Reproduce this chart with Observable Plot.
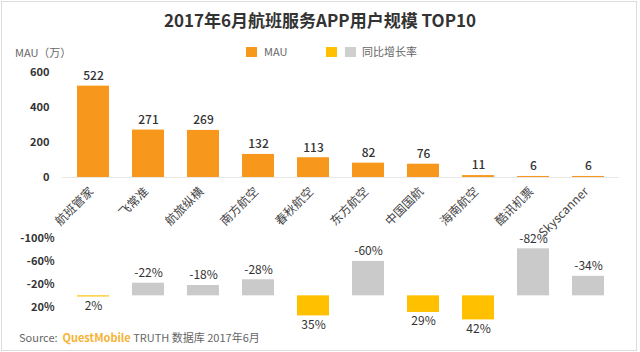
<!DOCTYPE html>
<html><head><meta charset="utf-8">
<script src="https://cdn.jsdelivr.net/npm/d3@7"></script>
<script src="https://cdn.jsdelivr.net/npm/@observablehq/plot@0.6"></script>
<style>
body{margin:0;background:#fff;font-family:"Noto Sans CJK SC","Noto Sans",sans-serif;}
#wrap{position:relative;width:640px;height:352px;overflow:hidden;background:#fff;}
#border{position:absolute;left:1px;top:1px;width:636px;height:350px;border:1px solid #dcdcdc;box-sizing:border-box;}
.abs{position:absolute;white-space:nowrap;}
#title{left:0;width:640px;top:9px;text-align:center;font-size:17px;font-weight:bold;color:#333;line-height:22px;}
#unit{left:15px;top:44px;font-size:11px;color:#666;line-height:16px;}
.sw{position:absolute;width:11px;height:10px;}
.lg{position:absolute;font-size:11px;color:#666;line-height:16px;top:43px;}
#source{left:19px;top:329px;font-size:11px;color:#666;line-height:16px;}
#source b{color:#F5B335;}
#top,#bottom{position:absolute;left:0;}
#top{top:0;}
#bottom{top:225px;}
</style></head>
<body>
<div id="wrap">
  <div id="border"></div>
  <div id="top"></div>
  <div id="bottom"></div>
  <div id="title" class="abs">2017年6月航班服务APP用户规模 TOP10</div>
  <div id="unit" class="abs">MAU（万）</div>
  <div class="sw" style="left:246px;top:47px;background:#F7981D"></div>
  <div class="lg" style="left:264px">MAU</div>
  <div class="sw" style="left:326px;top:47px;background:#FFC000"></div>
  <div class="sw" style="left:345px;top:47px;background:#CFCFCF"></div>
  <div class="lg" style="left:362px">同比增长率</div>
  <div id="source" class="abs">Source:&nbsp;&nbsp;<b>QuestMobile</b> TRUTH 数据库 2017年6月</div>
</div>
<script>
const apps = ["航班管家","飞常准","航旅纵横","南方航空","春秋航空","东方航空","中国国航","海南航空","酷讯机票","Skyscanner"];
const mau = [522,271,269,132,113,82,76,11,6,6];
const growth = [2,-22,-18,-28,35,-60,29,42,-82,-34];
const mauTicks = [0,200,400,600];
const growthTicks = [-100,-60,-20,20];

const font = '"Noto Sans CJK SC","Noto Sans",sans-serif';
const data = apps.map((a,i)=>({app:a, mau:mau[i], growth:growth[i], sign: growth[i] < 0 ? "neg" : "pos"}));
const xScale = {domain: apps, paddingInner: 0.425, paddingOuter: 0.2125, label: null};

const topChart = Plot.plot({
  width: 640, height: 232,
  marginTop: 72, marginBottom: 55, marginLeft: 62, marginRight: 21,
  style: {fontFamily: font, fontSize: "12px", color: "#333", background: "transparent", overflow: "visible"},
  x: xScale,
  y: {domain: [0, 600], label: null},
  marks: [
    Plot.axisY({ticks: mauTicks, tickSize: 0, tickPadding: 13, fontWeight: "bold", fill: "#333", fontSize: 11, label: null}),
    Plot.axisX({tickRotate: -45, tickSize: 0, tickPadding: 12, dx: -2, fill: "#444", fontSize: 12, label: null}),
    Plot.barY(data, {x: "app", y: "mau", fill: "#F7981D"}),
    Plot.ruleY([0], {stroke: "#e8e8e8"}),
    Plot.text(data, {x: "app", y: "mau", text: d => String(d.mau), dy: -10, fill: "#333", fontSize: 12, fontWeight: 500})
  ]
});
document.getElementById("top").appendChild(topChart);

const bottomChart = Plot.plot({
  width: 640, height: 110,
  marginTop: 13, marginBottom: 11, marginLeft: 62, marginRight: 21,
  style: {fontFamily: font, fontSize: "12px", color: "#333", background: "transparent", overflow: "visible"},
  x: {...xScale, axis: null},
  y: {domain: [-100, 50], reverse: true, label: null},
  color: {domain: ["neg", "pos"], range: ["#CACACA", "#FFC000"]},
  marks: [
    Plot.axisY({ticks: growthTicks, tickFormat: d => d + "%", tickSize: 0, tickPadding: 8, fill: "#333", fontWeight: "bold", fontSize: 11, label: null}),
    Plot.barY(data, {x: "app", y: "growth", fill: "sign"}),
    Plot.text(data.filter(d => d.growth < 0), {x: "app", y: "growth", text: d => d.growth + "%", dy: -10, fill: "#333", fontSize: 12}),
    Plot.text(data.filter(d => d.growth >= 0), {x: "app", y: "growth", text: d => d.growth + "%", dy: 9, fill: "#333", fontSize: 12})
  ]
});
document.getElementById("bottom").appendChild(bottomChart);
</script>
</body></html>
